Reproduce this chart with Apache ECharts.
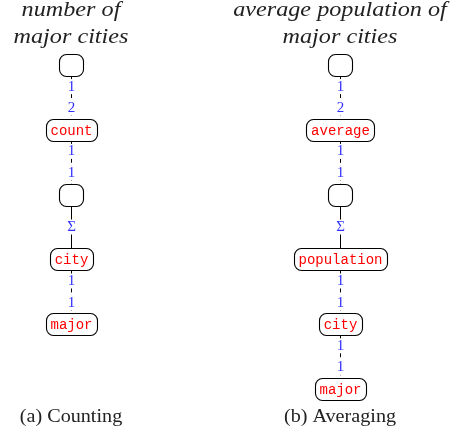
<!DOCTYPE html>
<html><head><meta charset="utf-8">
<script src="https://cdn.jsdelivr.net/npm/echarts@6/dist/echarts.min.js"></script>
<style>html,body{margin:0;padding:0;background:#fff}#c{width:456px;height:431px}</style>
</head><body><div id="c"></div>
<script>
// Diagram content
const titles = [['number of', 'major cities'], ['average population of', 'major cities']];
const captions = ['(a) Counting', '(b) Averaging'];
const leftNodes = ['', 'count', '', 'city', 'major'];
const leftEdges = [['1', '2'], ['1', '1'], ['Σ'], ['1', '1']];
const rightNodes = ['', 'average', '', 'population', 'city', 'major'];
const rightEdges = [['1', '2'], ['1', '1'], ['Σ'], ['1', '1'], ['1', '1']];

const trees = [{nodes: leftNodes, edges: leftEdges}, {nodes: rightNodes, edges: rightEdges}];

const nodeData = [], edgeData = [], textData = [];
trees.forEach((t, ti) => {
  t.nodes.forEach((txt, lv) => nodeData.push({value: [ti, lv], text: txt}));
  t.edges.forEach((labels, lv) => edgeData.push({value: [ti, lv], labels: labels}));
  titles[ti].forEach((line, k) => textData.push({value: [ti, k === 0 ? -0.84 : -0.43], text: line, kind: 'title'}));
  textData.push({value: [ti, 5.43], text: captions[ti], kind: 'caption'});
});

const chart = echarts.init(document.getElementById('c'), null, {renderer: 'canvas'});
const monoFont = '14px "Liberation Mono", "DejaVu Sans Mono", monospace';
const blue = '#3030ff';

chart.setOption({
  animation: false,
  backgroundColor: '#fff',
  grid: {left: 71, right: 116, top: 65, bottom: 42},
  xAxis: {type: 'value', min: 0, max: 1, show: false},
  yAxis: {type: 'value', min: 0, max: 5, inverse: true, show: false},
  series: [
    {
      type: 'custom', coordinateSystem: 'cartesian2d', encode: {x: 0, y: 1}, clip: false,
      data: edgeData.map(d => d.value),
      renderItem(params, api) {
        const d = edgeData[params.dataIndex];
        const a = api.coord([d.value[0], d.value[1]]);
        const b = api.coord([d.value[0], d.value[1] + 1]);
        const x = Math.round(a[0]) + 0.5;
        const dashed = d.labels.length > 1;
        const children = [{
          type: 'line', shape: {x1: x, y1: a[1], x2: x, y2: b[1]},
          style: {stroke: '#000', lineWidth: 1, lineDash: dashed ? [6, 3] : null}
        }];
        const fr = d.labels.length > 1 ? [1 / 3, 2 / 3] : [0.5];
        d.labels.forEach((lab, i) => {
          const p = api.coord([d.value[0], d.value[1] + fr[i]]);
          children.push({
            type: 'text', z2: 10,
            style: {text: lab, x: x, y: p[1], align: 'center', verticalAlign: 'middle',
              fill: blue, font: '15px "Liberation Serif", "DejaVu Serif", serif',
              lineHeight: 15, backgroundColor: '#fff', padding: [0, 1]}
          });
        });
        return {type: 'group', children};
      }
    },
    {
      type: 'custom', coordinateSystem: 'cartesian2d', encode: {x: 0, y: 1}, clip: false,
      data: nodeData.map(d => d.value),
      renderItem(params, api) {
        const d = nodeData[params.dataIndex];
        const p = api.coord(d.value);
        const w = d.text ? Math.round(d.text.length * 8.4 + 9) : 24;
        const h = 22;
        const x0 = Math.round(p[0] - w / 2) + 0.5, y0 = Math.round(p[1] - h / 2) + 0.5;
        return {type: 'group', children: [
          {type: 'rect', shape: {x: x0, y: y0, width: w, height: h, r: 7},
            style: {fill: '#fff', stroke: '#000', lineWidth: 1.1}},
          {type: 'text', style: {text: d.text, x: p[0] + 0.5, y: p[1] + 1, align: 'center', verticalAlign: 'middle',
            fill: '#ff0000', font: monoFont}}
        ]};
      }
    },
    {
      type: 'custom', coordinateSystem: 'cartesian2d', encode: {x: 0, y: 1}, clip: false,
      data: textData.map(d => d.value),
      renderItem(params, api) {
        const d = textData[params.dataIndex];
        const p = api.coord(d.value);
        const isTitle = d.kind === 'title';
        const font = isTitle
          ? 'italic 20.5px "Liberation Serif", "DejaVu Serif", serif'
          : '18px "Liberation Serif", "DejaVu Serif", serif';
        return {type: 'text', x: p[0], y: p[1], scaleX: isTitle ? 1.18 : 1.12, scaleY: 1,
          style: {text: d.text, x: 0, y: 0, align: 'center', verticalAlign: 'middle',
          fill: '#222', font}};
      }
    }
  ]
});
</script></body></html>
